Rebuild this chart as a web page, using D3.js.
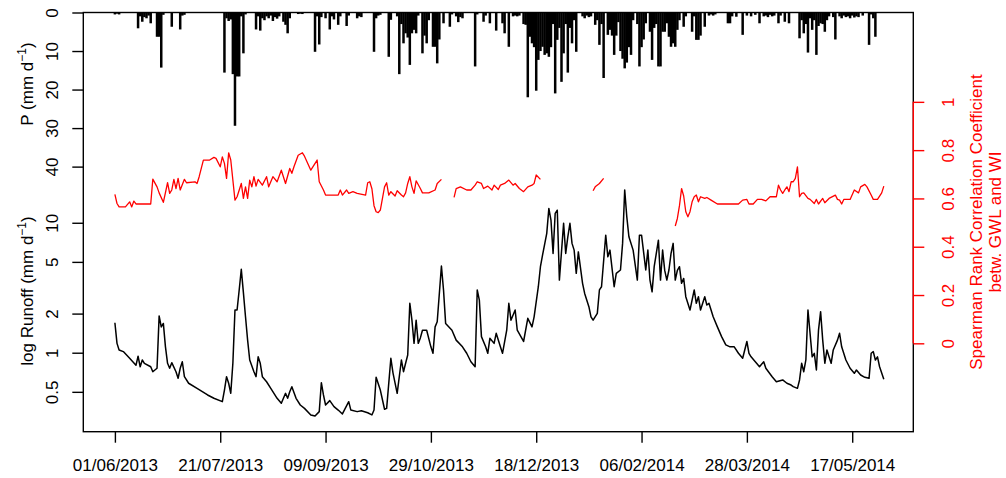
<!DOCTYPE html>
<html><head><meta charset="utf-8">
<script src="https://cdn.jsdelivr.net/npm/d3@7"></script>
<style>
body{margin:0;background:#fff;}
svg{display:block;font-family:"Liberation Sans",Arial,sans-serif;}
</style></head><body>
<svg id="c" width="1006" height="478"></svg>
<script>
// ---------- data ----------
const startDate = "01/06/2013";
const xTickLabels = ["01/06/2013","21/07/2013","09/09/2013","29/10/2013","18/12/2013","06/02/2014","28/03/2014","17/05/2014"];
const pTicks = [0,10,20,30,40];
const runoffTicks = [0.5,1,2,5,10];
const corrTicks = [0,0.2,0.4,0.6,0.8,1];

// daily precipitation (days since 01/06/2013, mm/d)
const precipDays = [0,1,2,11,12,13,14,15,16,17,20,21,22,23,27,31,32,33,52,53,54,55,56,57,58,59,60,61,62,67,68,69,70,71,72,73,74,75,76,77,78,80,81,82,83,87,88,89,95,96,97,98,100,102,103,104,106,107,110,111,115,116,117,123,124,125,126,130,131,134,135,136,137,138,139,140,141,142,143,144,146,147,148,149,151,152,153,154,156,159,160,162,163,164,165,171,172,175,176,178,181,184,185,187,189,190,191,192,194,195,196,197,198,199,200,201,202,203,204,205,206,207,208,209,210,211,212,213,214,215,216,217,218,219,222,223,224,225,226,228,229,230,231,232,234,235,236,237,238,239,240,241,242,243,244,245,246,248,249,250,251,252,254,255,256,257,258,259,260,261,262,263,264,265,266,267,268,270,271,274,275,276,277,278,280,282,283,284,285,291,292,293,295,298,300,302,304,306,308,309,310,311,312,313,315,316,318,320,325,326,327,328,329,330,331,332,333,334,335,336,337,338,339,341,342,344,345,346,347,348,349,350,351,352,353,355,358,359,360,361];
const precipValues = [0.5,0.3,0.5,4.1,1.0,2.4,1.2,1.5,0.8,2.8,6.3,6.3,14.3,0.6,3.7,4.4,0.8,0.6,15.6,1.5,2.2,1.8,16,29.4,16.6,16.6,1.0,10.6,0.5,4.4,1.0,4.7,1.5,2.0,1.0,1.5,0.8,2.2,1.2,1.6,1.0,2.4,3.2,5.4,1.5,0.4,0.3,0.4,10.2,1.0,8.3,1.2,1.5,4.4,1.0,1.8,3.2,1.0,3.5,0.8,1.5,1.0,1.2,10.2,1.5,0.8,0.6,11.5,1.9,1.0,16,3,8.0,5.4,6.5,13.6,5.4,4.5,5.4,0.8,10.6,6,8,2,8.9,8.9,13.2,7,2.8,3.7,0.5,1,2.5,1.2,1.5,14,0.5,2.4,0.8,2.8,4.7,2.8,5.4,8.9,1,0.8,1,0.8,3,3.2,22,6.3,8,9,20.3,12.3,10,8.9,11,10.6,11.5,9,3,21,7.1,4,18,10.6,3,15.6,4,8,2,10.2,1,1.5,0.8,1.2,1,3.2,2,8.4,3,17,5.8,4.5,6,11,6,2.5,10,12,14.5,13,9,11,2,3,14,9,7,2.8,5,12.3,4,3,14,14,5,5,2.8,6.3,8.9,8,8.9,4.5,2,3.7,1,5,1,7.1,7.1,6,3.7,0.8,0.5,0.8,0.5,2.8,2.8,1,1.1,5.8,0.8,1,0.6,2.8,1,0.8,1.2,0.6,1,0.8,2.8,0.8,2.4,2.8,6.7,2,5.4,3,10.4,1.5,4.5,2,11,3.5,2.8,3,5,2,1,1.2,7,1,1.5,0.8,1.2,1,1.5,0.8,1.3,1,1.2,0.8,8.4,0.5,1.5,6.3];

// runoff (days since 01/06/2013, mm/d)
const runoffDays = [0,1,2,4,7,10,11,12,13,14,17,18,20,21,22,23,24,25,26,27,29,30,31,32,33,35,39,44,47,51,52,53,54,55,56,57,58,59,60,61,62,63,64,66,67,68,69,70,72,74,77,79,81,82,83,84,86,88,90,93,95,97,98,99,100,102,104,106,108,111,112,115,117,120,122,123,124,126,128,129,131,132,134,136,137,138,139,140,141,142,143,144,145,146,148,150,151,152,153,155,156,157,160,162,165,167,169,171,172,173,174,176,177,178,180,181,183,184,186,187,188,190,191,194,196,198,199,201,202,203,205,206,207,208,209,210,211,213,214,215,216,217,218,219,220,222,223,225,226,227,229,230,231,233,234,235,237,238,240,241,242,243,244,246,248,249,250,252,253,254,255,256,258,259,260,261,262,263,264,265,266,267,268,269,270,271,273,275,276,277,278,280,281,282,284,286,288,290,292,294,296,298,300,301,302,304,306,308,309,312,314,317,319,321,322,324,325,326,327,328,329,331,332,333,334,335,336,337,338,339,340,341,343,344,345,347,349,351,352,354,356,358,359,360,361,362,363,365];
const runoffValues = [1.70,1.18,1.05,1.02,0.906,0.80,0.94,0.78,0.879,0.829,0.78,0.714,0.759,1.92,1.58,1.68,1.11,0.829,0.759,0.838,0.714,0.636,0.759,0.852,0.654,0.582,0.532,0.473,0.446,0.420,0.516,0.654,0.582,0.487,0.829,2.13,2.13,3.04,4.38,2.9,1.89,1.25,0.879,0.714,0.654,0.93,0.829,0.654,0.598,0.532,0.446,0.408,0.487,0.446,0.50,0.548,0.446,0.396,0.373,0.332,0.326,0.352,0.588,0.473,0.396,0.428,0.385,0.362,0.338,0.42,0.362,0.352,0.358,0.345,0.332,0.362,0.647,0.516,0.367,0.373,0.906,0.70,0.487,0.879,0.714,0.829,0.96,2.40,1.78,1.18,1.78,1.18,1.3,1.49,1.49,1.11,0.99,1.58,1.73,4.65,3.04,1.68,1.49,1.25,1.11,0.99,0.852,0.78,3.04,2.54,1.33,1.11,0.99,1.29,1.18,1.41,1.11,0.99,1.49,2.40,1.78,2.13,1.49,1.22,1.84,1.58,1.89,3.22,4.59,5.64,8.29,12.9,10.5,5.81,11.8,12.5,3.62,9.9,5.81,7.8,9.9,6.94,6.16,4.08,5.97,3.42,2.86,2.26,1.89,1.78,2.01,3.04,3.22,8.03,5.47,6.16,3.22,4.08,4.33,6.94,17.9,11.1,7.8,6.16,3.62,8.03,8.03,4.33,6.16,3.62,2.94,4.59,7.35,3.62,6.16,4.3,3.62,4.33,5.81,6.94,3.62,4.3,4.59,3.42,3.73,2.70,2.13,3.04,2.40,2.70,2.13,2.70,2.33,2.40,1.89,1.58,1.33,1.15,1.11,1.11,0.99,0.906,1.22,0.99,0.93,0.852,0.78,0.852,0.759,0.654,0.598,0.617,0.582,0.564,0.548,0.532,0.617,0.829,0.714,0.879,2.13,0.93,0.99,0.736,1.49,2.07,1.25,0.829,1.05,0.93,0.829,1.05,1.25,1.41,1.11,0.879,0.759,0.694,0.736,0.674,0.647,0.636,0.99,1.02,0.879,0.93,0.78,0.624];

// Spearman rank correlation (null = gap)
const corrDays = [0,1,2,5,7,8,9,10,17,18,20,21,23,25,26,27,28,29,30,31,33,34,38,39,40,42,45,47,48,50,51,52,53,54,55,57,58,60,61,62,63,64,65,66,67,68,70,72,73,75,77,79,81,83,84,85,87,89,90,93,96,97,99,100,106,107,108,110,111,113,115,119,120,121,122,123,124,125,126,128,129,130,131,133,134,136,137,138,139,140,141,142,143,145,146,149,152,153,155,null,
161,162,164,167,169,171,172,174,175,177,179,180,182,183,185,187,189,190,192,194,196,198,199,200,202,null,
227,228,230,232,null,
266,267,268,269,270,271,272,273,274,275,276,277,278,280,281,283,286,296,298,300,301,303,305,307,309,311,314,315,316,317,318,319,320,321,322,323,324,325,326,327,329,330,332,333,334,336,337,339,342,343,344,345,346,349,351,353,354,356,357,359,360,362,364,365];
const corrValues = [0.617,0.579,0.565,0.565,0.586,0.565,0.589,0.577,0.577,0.680,0.648,0.623,0.584,0.665,0.621,0.635,0.679,0.641,0.683,0.635,0.679,0.665,0.669,0.662,0.690,0.759,0.759,0.770,0.766,0.731,0.772,0.745,0.683,0.789,0.759,0.593,0.607,0.662,0.600,0.648,0.600,0.676,0.648,0.690,0.651,0.679,0.655,0.690,0.648,0.690,0.669,0.717,0.662,0.724,0.704,0.731,0.779,0.789,0.775,0.717,0.759,0.669,0.635,0.614,0.614,0.635,0.614,0.635,0.621,0.628,0.621,0.614,0.665,0.669,0.640,0.570,0.545,0.541,0.552,0.648,0.665,0.614,0.628,0.610,0.632,0.614,0.607,0.623,0.662,0.690,0.648,0.621,0.673,0.641,0.623,0.623,0.635,0.662,0.679,null,
0.604,0.641,0.648,0.635,0.635,0.655,0.669,0.662,0.641,0.651,0.635,0.655,0.637,0.655,0.662,0.676,0.655,0.662,0.641,0.628,0.648,0.655,0.662,0.697,0.679,null,
0.632,0.648,0.662,0.683,null,
0.486,0.517,0.570,0.641,0.610,0.545,0.524,0.545,0.586,0.607,0.614,0.586,0.607,0.600,0.604,0.593,0.577,0.577,0.593,0.596,0.577,0.577,0.596,0.596,0.590,0.607,0.607,0.655,0.635,0.621,0.635,0.648,0.628,0.669,0.669,0.683,0.731,0.607,0.621,0.623,0.600,0.596,0.579,0.596,0.577,0.600,0.582,0.600,0.614,0.596,0.593,0.577,0.596,0.596,0.635,0.623,0.648,0.658,0.648,0.614,0.596,0.596,0.623,0.651];

// ---------- layout ----------
const L = 83.3, R = 913.3, T = 12.5, B = 431.7;
const FS = 17;
const RED = "#ff0000";

const svg = d3.select("#c");
const parse = d3.utcParse("%d/%m/%Y");
const fmt = d3.utcFormat("%d/%m/%Y");
const start = parse(startDate);
const dayDate = d => d3.utcDay.offset(start, d);

const x = d3.scaleUtc().domain([dayDate(-15), dayDate(379)]).range([L, R]);
const yP = d3.scaleLinear().domain([0, 108.8]).range([T, B]);
const yQ = d3.scaleLog().domain([0.2467, 415]).range([B, T]);
const yC = d3.scaleLinear().domain([-0.366, 1.37]).range([B, T]);

// precipitation bars
const precip = precipDays.map((d, i) => ({day: d, v: precipValues[i]}));
svg.append("g").selectAll("rect").data(precip).join("rect")
  .attr("x", d => x(dayDate(d.day)) - 1.25)
  .attr("width", 2.5)
  .attr("y", yP(0))
  .attr("height", d => yP(d.v) - yP(0))
  .attr("fill", "#000");

// runoff line
const runoff = runoffDays.map((d, i) => ({day: d, v: runoffValues[i]}));
svg.append("path").datum(runoff)
  .attr("fill", "none").attr("stroke", "#000").attr("stroke-width", 1.5)
  .attr("stroke-linejoin", "round")
  .attr("d", d3.line().x(d => x(dayDate(d.day))).y(d => yQ(d.v)));

// correlation line
const corr = corrDays.map((d, i) => ({day: d, v: corrValues[i]}));
svg.append("path").datum(corr)
  .attr("fill", "none").attr("stroke", RED).attr("stroke-width", 1.3)
  .attr("stroke-linejoin", "round")
  .attr("d", d3.line().defined(d => d.v != null && d.day != null)
    .x(d => x(dayDate(d.day))).y(d => yC(d.v)));

// box
svg.append("rect").attr("x", L).attr("y", T).attr("width", R - L).attr("height", B - T)
  .attr("fill", "none").attr("stroke", "#000").attr("stroke-width", 1.4);

function styleAxis(g, color) {
  g.select(".domain").remove();
  g.selectAll(".tick line").attr("stroke", color).attr("stroke-width", 1.4);
  g.selectAll("text").attr("fill", color).style("font-size", FS + "px")
    .style("font-family", '"Liberation Sans", Arial, sans-serif');
}

// x axis
const xTicks = xTickLabels.map(s => parse(s));
const gx = svg.append("g").attr("transform", `translate(0,${B})`)
  .call(d3.axisBottom(x).tickValues(xTicks).tickFormat(fmt).tickSize(11).tickPadding(0));
styleAxis(gx, "#000");
gx.selectAll("text").attr("y", 39.8).attr("dy", null);

// left P axis
const gp = svg.append("g").attr("transform", `translate(${L},0)`)
  .call(d3.axisLeft(yP).tickValues(pTicks).tickFormat(d3.format("d")).tickSize(11));
styleAxis(gp, "#000");
gp.selectAll("text").attr("x", null).attr("dy", null)
  .attr("text-anchor", "middle").attr("transform", "translate(-25,0) rotate(-90)");

// left runoff axis
const gq = svg.append("g").attr("transform", `translate(${L},0)`)
  .call(d3.axisLeft(yQ).tickValues(runoffTicks).tickFormat(d => String(d)).tickSize(11));
styleAxis(gq, "#000");
gq.selectAll("text").attr("x", null).attr("dy", null)
  .attr("text-anchor", "middle").attr("transform", "translate(-25,0) rotate(-90)");

// right corr axis
svg.append("line").attr("x1", R).attr("x2", R).attr("y1", yC(0)).attr("y2", yC(1))
  .attr("stroke", RED).attr("stroke-width", 1.4);
const gc = svg.append("g").attr("transform", `translate(${R},0)`)
  .call(d3.axisRight(yC).tickValues(corrTicks).tickFormat(d => String(d)).tickSize(11));
styleAxis(gc, RED);
gc.selectAll("text").attr("x", null).attr("dy", null)
  .attr("text-anchor", "middle").attr("transform", "translate(40.2,0) rotate(-90)");

// axis titles
function ylab(xp, yp, main, color) {
  const t = svg.append("text").attr("transform", `translate(${xp},${yp}) rotate(-90)`)
    .attr("text-anchor", "middle").attr("fill", color)
    .style("font-size", FS + "px");
  t.append("tspan").text(main + " (mm d");
  t.append("tspan").attr("dy", -7).style("font-size", "12px").text("\u22121");
  t.append("tspan").attr("dy", 7).text(")");
}
ylab(33.3, 84, "P", "#000");
ylab(33.3, 291, "log Runoff", "#000");

svg.append("text").attr("transform", `translate(981.5,222) rotate(-90)`)
  .attr("text-anchor", "middle").attr("fill", RED).style("font-size", FS + "px")
  .text("Spearman Rank Correlation Coefficient");
svg.append("text").attr("transform", `translate(1000.5,222) rotate(-90)`)
  .attr("text-anchor", "middle").attr("fill", RED).style("font-size", FS + "px")
  .text("betw. GWL and WI");
</script>
</body></html>
